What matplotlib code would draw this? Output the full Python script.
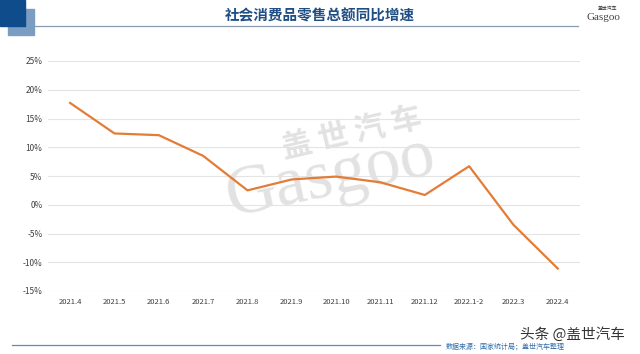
import matplotlib.pyplot as plt
from matplotlib.patches import Rectangle
from matplotlib.lines import Line2D

plt.rcParams['font.family'] = ['Noto Sans CJK SC', 'DejaVu Sans']

# 数据
months = ['2021.4', '2021.5', '2021.6', '2021.7', '2021.8', '2021.9', '2021.10',
          '2021.11', '2021.12', '2022.1-2', '2022.3', '2022.4']
growth = [17.7, 12.4, 12.1, 8.5, 2.5, 4.4, 4.9, 3.9, 1.7, 6.7, -3.5, -11.1]
yticks = [-15, -10, -5, 0, 5, 10, 15, 20, 25]

fig = plt.figure(figsize=(6.4, 3.54), dpi=100)
fig.patch.set_facecolor('white')

# 页眉装饰
fig.patches.append(Rectangle((8/640, 1-35/354), 26/640, 26/354, transform=fig.transFigure,
                             color='#7B9DC2', zorder=1))
fig.patches.append(Rectangle((0, 1-26/354), 25/640, 26/354, transform=fig.transFigure,
                             color='#0F4C8C', zorder=2))
fig.lines.append(Line2D([34/640, 578/640], [1-26/354, 1-26/354], transform=fig.transFigure,
                        color='#8C9CB0', lw=0.9))
fig.text(320/640, 1-15/354, '社会消费品零售总额同比增速', ha='center', va='center',
         fontsize=10.5, fontweight='bold', color='#1F4E84')
fig.text(608/640, 1-8/354, '盖世汽车', ha='center', va='center', fontsize=3.5, color='#333333')
fig.text(603/640, 1-17/354, 'Gasgoo', ha='center', va='center', fontsize=8,
         family='Liberation Serif', color='#444444')

# 页脚
fig.lines.append(Line2D([12/640, 440/640], [1-345/354, 1-345/354], transform=fig.transFigure,
                        color='#5B8DB5', lw=0.9))
fig.text(446/640, 1-346/354, '数据来源：国家统计局；盖世汽车整理', ha='left', va='center',
         fontsize=5, style='italic', color='#2F6DA8')
fig.text(572/640, 1-334/354, '头条 @盖世汽车', ha='center', va='center',
         fontsize=10.5, color='#333333')

ax = fig.add_axes([48/640, 1-291/354, 532/640, 230/354])
ax.plot(range(len(months)), growth, color='#E47C36', lw=1.6, zorder=3)

ax.set_xlim(-0.5, len(months) - 0.5)
ax.set_ylim(-15, 25)
ax.set_yticks(yticks)
ax.set_yticklabels([f'{v}%' for v in yticks], fontsize=6, color='#404040')
ax.set_xticks(range(len(months)))
ax.set_xticklabels(months, fontsize=5.5, color='#404040')
ax.tick_params(length=0, axis='y', pad=4)
ax.tick_params(length=0, axis='x', pad=5)
ax.grid(axis='y', color='#E4E4E4', lw=0.8)
ax.set_axisbelow(True)
for s in ax.spines.values():
    s.set_visible(False)

# 水印
ax.text(0.571, 0.687, '盖 世 汽 车', transform=ax.transAxes, fontsize=22, fontweight='bold',
        color='#E2E2E2', rotation=13, ha='center', va='center', zorder=1)
ax.text(0.53, 0.49, 'Gasgoo', transform=ax.transAxes, fontsize=50, family='Liberation Serif',
        color='#E2E2E2', rotation=12, ha='center', va='center', zorder=1)

fig.savefig('out.png', dpi=100)
